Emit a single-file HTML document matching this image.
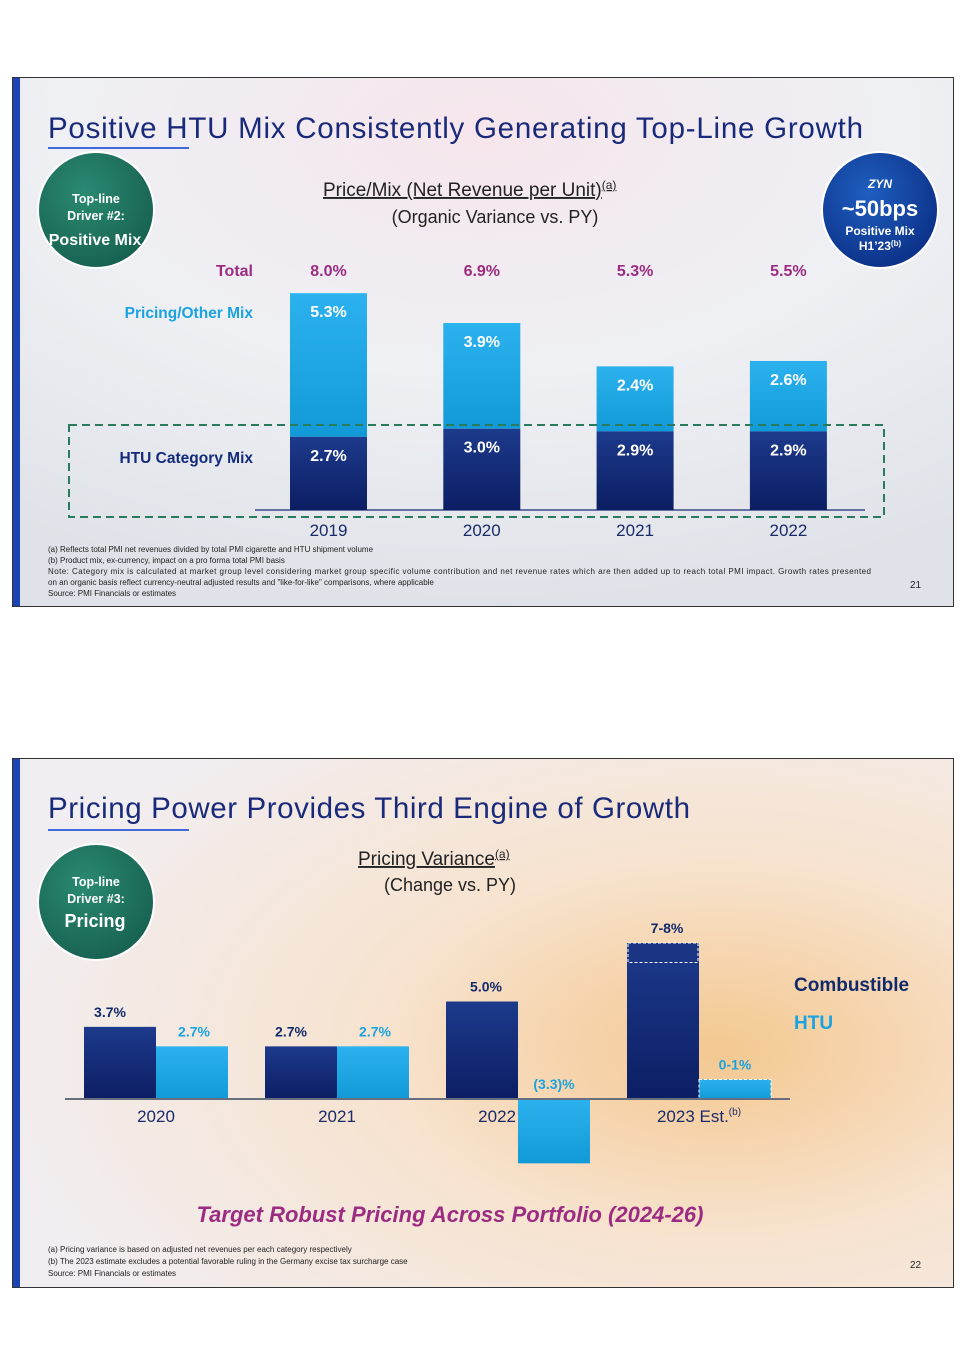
<!DOCTYPE html>
<html><head><meta charset="utf-8"><style>
html,body{margin:0;padding:0;background:#fff;width:965px;height:1365px;overflow:hidden}
svg{display:block;font-family:"Liberation Sans",sans-serif}
</style></head><body>
<svg id="page" width="965" height="1365" viewBox="0 0 965 1365">
<defs>
<radialGradient id="bg1" cx="0.5" cy="0.1" r="0.9"><stop offset="0" stop-color="#f6e6ec"/><stop offset="0.5" stop-color="#eef0f4"/><stop offset="1" stop-color="#dfe2e8"/></radialGradient>
<radialGradient id="bg2" cx="0.75" cy="0.55" r="0.8"><stop offset="0" stop-color="#f4c890"/><stop offset="0.45" stop-color="#f7e3cf"/><stop offset="1" stop-color="#f1eef2"/></radialGradient>
<linearGradient id="dark" x1="0" y1="0" x2="0" y2="1"><stop offset="0" stop-color="#1d3a8c"/><stop offset="1" stop-color="#0c1e63"/></linearGradient>
<linearGradient id="light" x1="0" y1="0" x2="0" y2="1"><stop offset="0" stop-color="#2bb2ee"/><stop offset="1" stop-color="#129ad8"/></linearGradient>
<radialGradient id="green" cx="0.4" cy="0.35" r="0.7"><stop offset="0" stop-color="#2a8a72"/><stop offset="1" stop-color="#17604f"/></radialGradient>
<radialGradient id="blue" cx="0.4" cy="0.35" r="0.7"><stop offset="0" stop-color="#1f5fc0"/><stop offset="1" stop-color="#0b2f86"/></radialGradient>
</defs>

<!-- Slide 1 -->
<g>
<rect x="12.5" y="77.5" width="941" height="529" fill="url(#bg1)" stroke="#333" stroke-width="1"/>
<rect x="13" y="78" width="7" height="528" fill="#1a44b5"/>
<text x="48" y="138" font-size="29.5" fill="#1a2a7a" textLength="815">Positive HTU Mix Consistently Generating Top-Line Growth</text>
<rect x="48" y="147" width="141" height="2" fill="#3f6ad8"/>
<g>
<circle cx="96" cy="210" r="58" fill="url(#green)" stroke="#fff" stroke-width="2"/>
<text x="96" y="203" font-size="12.5" font-weight="bold" fill="#fff" text-anchor="middle">Top-line</text>
<text x="96" y="220" font-size="12.5" font-weight="bold" fill="#fff" text-anchor="middle">Driver #2:</text>
<text x="95" y="245" font-size="16" font-weight="bold" fill="#fff" text-anchor="middle">Positive Mix</text>
</g>
<g>
<circle cx="880" cy="210" r="58" fill="url(#blue)" stroke="#fff" stroke-width="2"/>
<text x="880" y="188" font-size="12" font-weight="bold" font-style="italic" fill="#fff" text-anchor="middle">ZYN</text>
<text x="880" y="216" font-size="22" font-weight="bold" fill="#fff" text-anchor="middle">~50bps</text>
<text x="880" y="235" font-size="12" font-weight="bold" fill="#fff" text-anchor="middle">Positive Mix</text>
<text x="880" y="250" font-size="12" font-weight="bold" fill="#fff" text-anchor="middle">H1’23<tspan font-size="8" dy="-4">(b)</tspan></text>
</g>
<text x="323" y="196" font-size="19" fill="#222" text-decoration="underline">Price/Mix (Net Revenue per Unit)<tspan font-size="12" dy="-7">(a)</tspan></text>
<text x="495" y="223" font-size="18" fill="#222" text-anchor="middle">(Organic Variance vs. PY)</text>
<text x="253" y="276" font-size="16" font-weight="bold" fill="#9b2c82" text-anchor="end">Total</text>
<text x="253" y="318" font-size="15.5" font-weight="bold" fill="#1aa3e0" text-anchor="end">Pricing/Other Mix</text>
<text x="253" y="463" font-size="15.5" font-weight="bold" fill="#132a7a" text-anchor="end">HTU Category Mix</text>
<g id="chart1"></g>
<rect x="69" y="425" width="815" height="92" fill="none" stroke="#2a7a5e" stroke-width="2" stroke-dasharray="8,5"/>
<g font-size="8" fill="#222">
<text x="48" y="552">(a) Reflects total PMI net revenues divided by total PMI cigarette and HTU shipment volume</text>
<text x="48" y="563">(b) Product mix, ex-currency, impact on a pro forma total PMI basis</text>
<text x="48" y="574" textLength="823">Note: Category mix is calculated at market group level considering market group specific volume contribution and net revenue rates which are then added up to reach total PMI impact. Growth rates presented</text>
<text x="48" y="585">on an organic basis reflect currency-neutral adjusted results and "like-for-like" comparisons, where applicable</text>
<text x="48" y="596">Source: PMI Financials or estimates</text>
<text x="910" y="588" font-size="10">21</text>
</g>
</g>

<!-- Slide 2 -->
<g>
<rect x="12.5" y="758.5" width="941" height="529" fill="url(#bg2)" stroke="#333" stroke-width="1"/>
<rect x="13" y="759" width="7" height="528" fill="#1a44b5"/>
<text x="48" y="818" font-size="29.5" fill="#1a2a7a" textLength="642">Pricing Power Provides Third Engine of Growth</text>
<rect x="48" y="829" width="141" height="2" fill="#3f6ad8"/>
<g>
<circle cx="96" cy="902" r="58" fill="url(#green)" stroke="#fff" stroke-width="2"/>
<text x="96" y="886" font-size="12.5" font-weight="bold" fill="#fff" text-anchor="middle">Top-line</text>
<text x="96" y="903" font-size="12.5" font-weight="bold" fill="#fff" text-anchor="middle">Driver #3:</text>
<text x="95" y="927" font-size="18" font-weight="bold" fill="#fff" text-anchor="middle">Pricing</text>
</g>
<text x="358" y="865" font-size="19" fill="#222" text-decoration="underline">Pricing Variance<tspan font-size="12" dy="-7">(a)</tspan></text>
<text x="450" y="891" font-size="18" fill="#222" text-anchor="middle">(Change vs. PY)</text>
<g id="chart2"></g>
<text x="794" y="991" font-size="19" font-weight="bold" fill="#132a6a">Combustible</text>
<text x="794" y="1029" font-size="19" font-weight="bold" fill="#1aa3e0">HTU</text>
<text x="450" y="1222" font-size="22" font-weight="bold" font-style="italic" fill="#9b2c82" text-anchor="middle">Target Robust Pricing Across Portfolio (2024-26)</text>
<g font-size="8" fill="#222">
<text x="48" y="1252">(a) Pricing variance is based on adjusted net revenues per each category respectively</text>
<text x="48" y="1264">(b) The 2023 estimate excludes a potential favorable ruling in the Germany excise tax surcharge case</text>
<text x="48" y="1276">Source: PMI Financials or estimates</text>
<text x="910" y="1268" font-size="10">22</text>
</g>
</g>
</svg>
<script>
// Chart 1 data
const years1 = ["2019","2020","2021","2022"];
const htuMix = [2.7, 3.0, 2.9, 2.9];
const pricingMix = [5.3, 3.9, 2.4, 2.6];
const totals = ["8.0%","6.9%","5.3%","5.5%"];
// Chart 2 data
const years2 = ["2020","2021","2022","2023 Est."];
const combLo = [3.7, 2.7, 5.0, 7];
const combHi = [3.7, 2.7, 5.0, 8];
const htuLo = [2.7, 2.7, -3.3, 0];
const htuHi = [2.7, 2.7, -3.3, 1];
const combLabels = ["3.7%","2.7%","5.0%","7-8%"];
const htuLabels = ["2.7%","2.7%","(3.3)%","0-1%"];

const NS="http://www.w3.org/2000/svg";
function mk(p,tag,attrs,txt){const e=document.createElementNS(NS,tag);for(const k in attrs)e.setAttribute(k,attrs[k]);if(txt!==undefined)e.textContent=txt;p.appendChild(e);return e;}

// Chart 1
(function(){
 const g=document.getElementById('chart1');
 const base=510, k=27.1, x0=290, step=153.3, bw=77;
 const y=v=>base-v*k;
 const xc=i=>x0+i*step;
 mk(g,'line',{x1:255,x2:865,y1:base,y2:base,stroke:'#3a4a8a','stroke-width':1.5});
 years1.forEach((yr,i)=>{
  const x=xc(i), tH=y(htuMix[i]), tT=y(htuMix[i]+pricingMix[i]);
  let r=mk(g,'rect',{x:x,y:tT,width:bw,height:tH-tT,fill:'url(#light)'});
  
  
  r=mk(g,'rect',{x:x,y:tH,width:bw,height:base-tH,fill:'url(#dark)'});
  
  
  let t=mk(g,'text',{x:x+bw/2,y:tT+24,'font-size':16,'font-weight':'bold',fill:'#fff','text-anchor':'middle'},pricingMix[i].toFixed(1)+'%');
  
  
  t=mk(g,'text',{x:x+bw/2,y:tH+24,'font-size':16,'font-weight':'bold',fill:'#fff','text-anchor':'middle'},htuMix[i].toFixed(1)+'%');
  
  
  t=mk(g,'text',{x:x+bw/2,y:276,'font-size':16,'font-weight':'bold',fill:'#9b2c82','text-anchor':'middle'},totals[i]);
  
  
  t=mk(g,'text',{x:x+bw/2,y:536,'font-size':17,fill:'#1a2a6a','text-anchor':'middle'},yr);
  
  
 });
})();

// Chart 2
(function(){
 const g=document.getElementById('chart2');
 const base=1099, k=19.5, x0=84, step=181, bw=72;
 const y=v=>base-v*k;
 years2.forEach((yr,i)=>{
  const x=x0+i*step;
  let r=mk(g,'rect',{x:x,y:y(combHi[i]),width:bw,height:base-y(combHi[i]),fill:'url(#dark)'});
  
  
  if(combHi[i]!==combLo[i]){
   r=mk(g,'rect',{x:x+1,y:y(combHi[i]),width:bw-2,height:y(combLo[i])-y(combHi[i]),fill:'#1b3584',stroke:'#fff','stroke-width':1,'stroke-dasharray':'3,2'});
   
   
  }
  let t=mk(g,'text',{x:x+bw/2-10,y:y(combHi[i])-10,'font-size':14,'font-weight':'bold',fill:'#132a6a','text-anchor':'middle'},combLabels[i]);
  if(i>=2) t.setAttribute('x',x+bw/2+4);
  
  
  const hx=x+bw;
  const top=Math.min(y(htuHi[i]),base), bot=Math.max(y(htuLo[i]),base);
  const isRange=htuHi[i]!==htuLo[i];
  r=mk(g,'rect',{x:hx,y:top,width:bw,height:bot-top,fill:'url(#light)'});
  if(isRange){r.setAttribute('stroke','#fff');r.setAttribute('stroke-dasharray','3,2');}
  
  
  const ly = htuLo[i]<0 ? base-10 : top-10;
  t=mk(g,'text',{x:hx+bw/2,y:ly,'font-size':14,'font-weight':'bold',fill:'#1aa3e0','text-anchor':'middle'},htuLabels[i]);
  if(i<2) t.setAttribute('x',hx+bw/2+2);
  
  
  const negHtu = htuLo[i]<0;
  t=mk(g,'text',{x:negHtu? x+bw-2 : x+bw,y:1122,'font-size':17,fill:'#1a2a6a','text-anchor':negHtu?'end':'middle'},yr);
  if(yr.indexOf('Est')>=0){mk(t,'tspan',{'font-size':10,dy:-7},'(b)');}
  
  
 });
 mk(g,'line',{x1:65,x2:790,y1:base,y2:base,stroke:'#666e80','stroke-width':2});
})();
</script>
</body></html>
